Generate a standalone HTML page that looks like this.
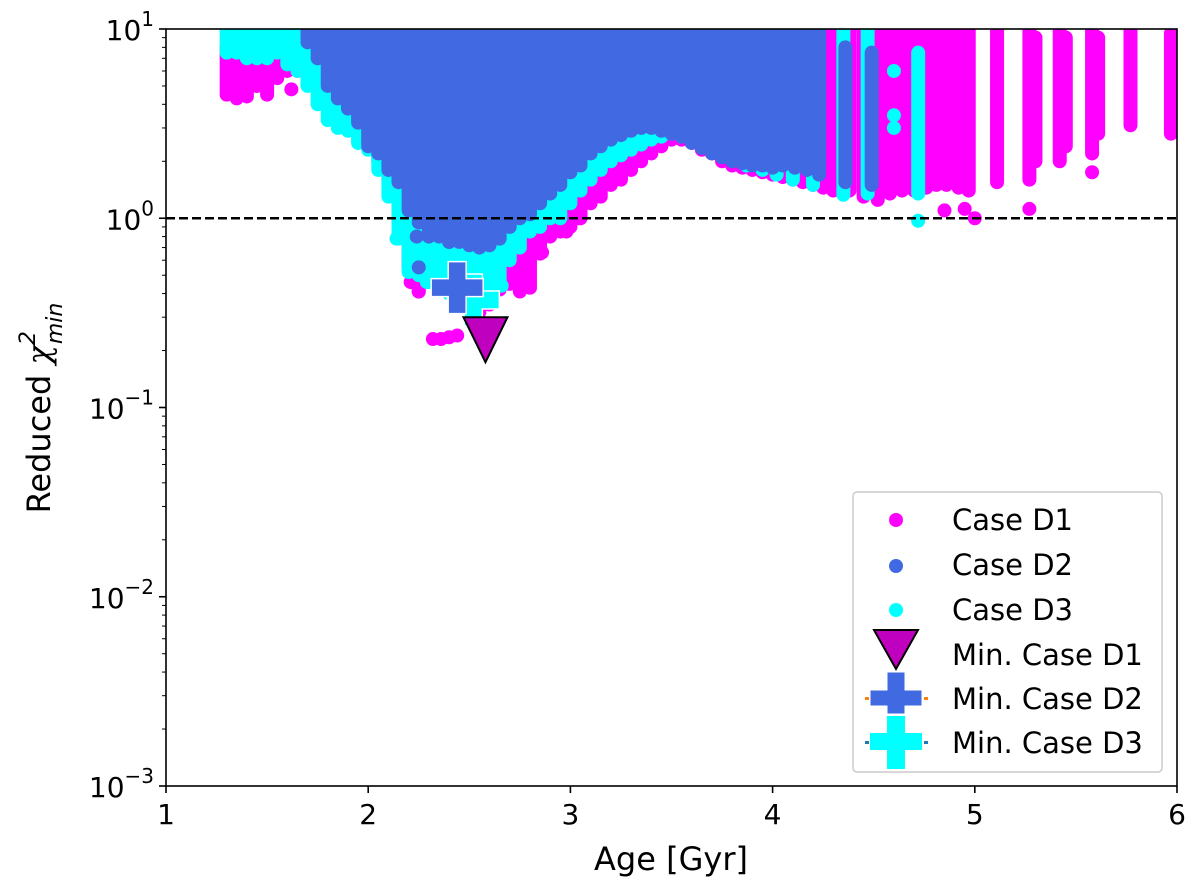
<!DOCTYPE html>
<html><head><meta charset="utf-8">
<style>
html,body{margin:0;padding:0;background:#fff;}
svg{display:block;font-family:"DejaVu Sans","Liberation Sans",sans-serif;}
</style></head>
<body>
<svg id="chart" width="1200" height="894" viewBox="0 0 1200 894">
  <g id="marks"></g>
  <g id="axes"></g>
</svg>
<script>
// ---- data (age [Gyr], lower chi2, upper chi2) per series as column ranges ----
const d1Cols = [
 [1.30,4.5,8],[1.35,4.3,9],[1.40,4.4,10],[1.45,5,10],[1.50,4.5,8],[1.55,5.5,10],[1.60,6,10],[1.65,6,10],[1.70,6,10],[1.75,5.5,10],[1.80,5,10],
 [1.85,4.5,10],[1.90,3.8,10],[1.95,3.2,10],[2.00,2.5,10],[2.05,2.0,10],[2.10,1.6,10],[2.15,1.0,10],[2.20,0.55,10],[2.25,0.41,10],
 [2.30,0.5,10],[2.35,0.45,10],[2.40,0.45,10],[2.50,0.35,10],[2.55,0.32,10],[2.60,0.35,10],[2.65,0.42,10],[2.70,0.45,10],[2.75,0.41,10],[2.80,0.43,10],
 [2.85,0.65,10],[2.90,0.8,10],[2.95,0.85,10],[3.00,0.9,10],[3.05,1.0,10],[3.10,1.2,10],[3.15,1.3,10],[3.20,1.5,10],[3.25,1.6,10],[3.30,1.8,10],
 [3.35,2.0,10],[3.40,2.2,10],[3.45,2.4,10],[3.50,2.6,10],[3.55,2.6,10],[3.60,2.5,10],[3.65,2.3,10],[3.70,2.2,10],[3.75,2.0,10],[3.80,1.9,10],
 [3.85,1.85,10],[3.90,1.8,10],[3.95,1.75,10],[4.00,1.7,10],[4.05,1.65,10],[4.10,1.6,10],[4.15,1.55,10],[4.20,1.5,10],[4.25,1.45,10],
 [4.30,1.4,10],[4.38,1.4,10],[4.45,1.3,10],[4.52,1.25,10],[4.58,1.35,10],[4.64,1.4,10],[4.70,1.4,10],[4.76,1.45,10],[4.81,1.5,10],[4.86,1.5,10],[4.92,1.45,10],[4.97,1.4,10],
 [5.11,1.55,10],[5.27,1.6,10],[5.30,2.0,9],[5.42,2.0,10],[5.45,2.4,9],[5.58,2.2,10],[5.61,2.8,9],[5.77,3.1,10],[5.97,2.8,9.5]
];
const d1Pts = [[2.32,0.23],[2.36,0.23],[2.40,0.235],[2.44,0.24],[2.86,0.66],[2.80,0.43],[3.04,1.0],[2.98,0.85],
 [2.25,0.41],[2.21,0.46],[5.0,1.0],[4.85,1.1],[4.95,1.12],[5.27,1.12],[5.58,1.75],[1.48,6.5],[1.62,4.8]];
const d3Cols = [
 [1.30,7.5,10],[1.35,7.5,10],[1.40,7,10],[1.45,7,10],[1.50,7,10],[1.55,7.5,10],[1.60,6.5,10],[1.65,6,10],[1.70,5,10],[1.75,4,10],
 [1.80,3.3,10],[1.85,3,10],[1.90,2.9,10],[1.95,2.5,10],[2.00,2.3,10],[2.05,1.8,10],[2.10,1.3,10],[2.15,0.78,10],[2.20,0.52,10],[2.25,0.5,10],
 [2.30,0.46,10],[2.35,0.42,10],[2.40,0.4,10],[2.45,0.38,10],[2.50,0.37,10],[2.55,0.38,10],[2.60,0.4,10],[2.65,0.44,10],[2.70,0.6,10],[2.75,0.7,10],
 [2.80,0.85,10],[2.85,0.9,10],[2.90,1.0,10],[2.95,1.0,10],[3.00,1.2,10],[3.05,1.4,10],[3.10,1.6,10],[3.15,1.8,10],[3.20,2.0,10],[3.25,2.15,10],[3.30,2.3,10],[3.35,2.45,10],[3.40,2.6,10],[3.45,2.7,10],[3.50,2.8,10],
 [3.55,2.7,10],[3.60,2.6,10],[3.65,2.5,10],[3.70,2.4,10],[3.75,2.2,10],[3.80,2.1,10],[3.87,1.9,10],[3.95,1.8,10],[4.02,1.7,10],[4.10,1.6,10],[4.20,1.5,10],[4.35,1.33,10],[4.47,1.35,10],[4.72,1.35,7.5]
];
const d3Pts = [[4.72,0.97],[4.60,6.0],[4.60,3.5],[4.60,3.0],[2.14,0.78],[2.29,0.46],[2.66,0.44]];
const d2Cols = [
 [1.70,8.5,10],[1.75,7,10],[1.80,5,10],[1.85,4.3,10],[1.90,3.8,10],[1.95,3.2,10],[2.00,2.4,10],[2.05,2.2,10],[2.10,1.8,10],[2.15,1.55,10],
 [2.20,1.1,10],[2.25,0.95,10],[2.30,0.8,10],[2.35,0.8,10],[2.40,0.75,10],[2.45,0.75,10],[2.50,0.72,10],[2.55,0.7,10],[2.60,0.72,10],[2.65,0.78,10],
 [2.70,0.9,10],[2.75,1.0,10],[2.80,1.05,10],[2.85,1.2,10],[2.90,1.35,10],[2.95,1.5,10],[3.00,1.75,10],[3.05,1.9,10],[3.10,2.2,10],[3.15,2.4,10],[3.20,2.6,10],
 [3.25,2.75,10],[3.30,2.9,10],[3.35,3.0,10],[3.40,3.0,10],[3.45,2.9,10],[3.50,2.8,10],[3.55,2.7,10],[3.60,2.5,10],[3.65,2.35,10],[3.70,2.2,10],[3.75,2.1,10],[3.80,2.0,10],[3.85,1.95,10],[3.90,1.9,10],[3.95,1.9,10],[4.00,1.85,10],[4.05,1.9,10],[4.11,1.85,10],
 [4.17,1.8,10],[4.23,1.7,10],[4.36,1.55,8],[4.49,1.5,7.5]
];
const d2Pts = [[2.24,0.8],[2.4,0.75],[2.25,0.55]];
const minD1 = [2.58, 0.25];
const minD2 = [2.44, 0.43];
const minD3 = [2.52, 0.37];
const xTicks = [1,2,3,4,5,6];
const yTickExps = [1,0,-1,-2,-3];
const refLine = 1.0;

// ---- scales ----
const X0=166, X1=1177, Y0=29, Y1=786;
function xs(a){ return X0 + (a-1)/(6-1)*(X1-X0); }
function ys(v){ return Y0 + (1 - Math.log10(v))/4*(Y1-Y0); }
const NS="http://www.w3.org/2000/svg";
function mk(tag, attrs, parent){ const e=document.createElementNS(NS,tag); for(const k in attrs) e.setAttribute(k,attrs[k]); parent.appendChild(e); return e; }

const marks=document.getElementById('marks');
const axes=document.getElementById('axes');
const clip=mk('clipPath',{id:'pc'},document.getElementById('chart'));
mk('rect',{x:X0,y:Y0,width:X1-X0,height:Y1-Y0},clip);
marks.setAttribute('clip-path','url(#pc)');

function drawSeries(cols, pts, color, name){
  const g=mk('g',{},marks);
  
  
  cols.forEach(c=>{
    const l=mk('line',{x1:xs(c[0]),x2:xs(c[0]),y1:ys(c[2]),y2:ys(c[1]),stroke:color,'stroke-width':14,'stroke-linecap':'round'},g);
    
    
  });
  pts.forEach(p=>{
    const c=mk('circle',{cx:xs(p[0]),cy:ys(p[1]),r:7,fill:color},g);
    
    
  });
}
drawSeries(d1Cols,d1Pts,'#ff00ff','case-d1');
drawSeries(d3Cols,d3Pts,'#00ffff','case-d3');
drawSeries(d2Cols,d2Pts,'#4169e1','case-d2');

function plus(cx,cy,s,t){
  const h=s/2, w=t/2;
  return `M${cx-w},${cy-h}H${cx+w}V${cy-w}H${cx+h}V${cy+w}H${cx+w}V${cy+h}H${cx-w}V${cy+w}H${cx-h}V${cy-w}H${cx-w}Z`;
}
const p3=mk('path',{d:plus(xs(minD3[0]),ys(minD3[1]),52,18),fill:'#00ffff',stroke:'#fff','stroke-width':1.5},marks);


const p2=mk('path',{d:plus(xs(minD2[0]),ys(minD2[1]),52,18),fill:'#4169e1',stroke:'#fff','stroke-width':1.5},marks);


(function(){
  const cx=xs(minD1[0]), cy=ys(minD1[1]);
  const t=mk('path',{d:`M${cx-22},${cy-15}H${cx+22}L${cx},${cy+30}Z`,fill:'#bf00bf',stroke:'#000','stroke-width':2},marks);
  
  
})();

const rl=mk('line',{x1:X0,x2:X1,y1:ys(refLine),y2:ys(refLine),stroke:'#000','stroke-width':2.5,'stroke-dasharray':'9,4'},axes);



const fr=mk('rect',{x:X0,y:Y0,width:X1-X0,height:Y1-Y0,fill:'none',stroke:'#000','stroke-width':1.6},axes);



xTicks.forEach(t=>{
  const x=xs(t);
  const tk=mk('line',{x1:x,x2:x,y1:Y1,y2:Y1+7,stroke:'#000','stroke-width':1.6},axes);
  
  
  const tx=mk('text',{x:x,y:Y1+38,'text-anchor':'middle','font-size':28},axes);
  tx.textContent=String(t);
  
  
});
yTickExps.forEach(e=>{
  const y=ys(Math.pow(10,e));
  const tk=mk('line',{x1:X0-7,x2:X0,y1:y,y2:y,stroke:'#000','stroke-width':1.6},axes);
  
  
  const tx=mk('text',{x:X0-12,y:y+11,'text-anchor':'end','font-size':28},axes);
  tx.innerHTML='10<tspan dy="-14" font-size="20">'+(e<0?'\u2212'+(-e):e)+'</tspan>';
  
  
  if(e>-3){
    for(let m=2;m<10;m++){
      const ym=ys(m*Math.pow(10,e-1));
      const mt=mk('line',{x1:X0-4,x2:X0,y1:ym,y2:ym,stroke:'#000','stroke-width':1},axes);
      
      
    }
  }
});
</script>
<svg width="1200" height="894" style="position:absolute;left:0;top:0;font-family:'DejaVu Sans','Liberation Sans',sans-serif">
  <text x="671" y="870" text-anchor="middle" font-size="32">Age [Gyr]</text>
  <text transform="translate(50,408) rotate(-90)" text-anchor="middle" font-size="32">Reduced <tspan font-style="italic" font-family="'DejaVu Serif','Liberation Serif',serif">χ</tspan><tspan font-style="italic" font-size="22" dy="-15">2</tspan><tspan font-style="italic" font-size="22" dx="-13" dy="27">min</tspan></text>
  <g>
    <rect x="853" y="492" width="309" height="280" rx="4" fill="#fff" fill-opacity="0.8" stroke="#ccc" stroke-width="1.5"/>
    <circle cx="896" cy="520" r="7" fill="#ff00ff"/>
    <text x="952" y="530" font-size="29">Case D1</text>
    <circle cx="896" cy="566" r="7" fill="#4169e1"/>
    <text x="952" y="575" font-size="29">Case D2</text>
    <circle cx="896" cy="610" r="7" fill="#00ffff"/>
    <text x="952" y="620" font-size="29">Case D3</text>
    <path d="M874,630H918L896,669Z" fill="#bf00bf" stroke="#000" stroke-width="2"/>
    <text x="952" y="665" font-size="29">Min. Case D1</text>
    <rect x="865" y="697" width="4" height="3" fill="#ff7f0e"/><rect x="924" y="697" width="4" height="3" fill="#ff7f0e"/>
    <path d="M887,672H905V690H922V706H905V714H887V706H870V690H887Z" fill="#4169e1" stroke="#fff" stroke-width="1"/>
    <text x="952" y="709" font-size="29">Min. Case D2</text>
    <rect x="865" y="741" width="4" height="3" fill="#1f77b4"/><rect x="924" y="741" width="4" height="3" fill="#1f77b4"/>
    <path d="M887,716H905V733H922V750H905V769H887V750H870V733H887Z" fill="#00ffff"/>
    <text x="952" y="753" font-size="29">Min. Case D3</text>
  </g>
</svg>
</body></html>
